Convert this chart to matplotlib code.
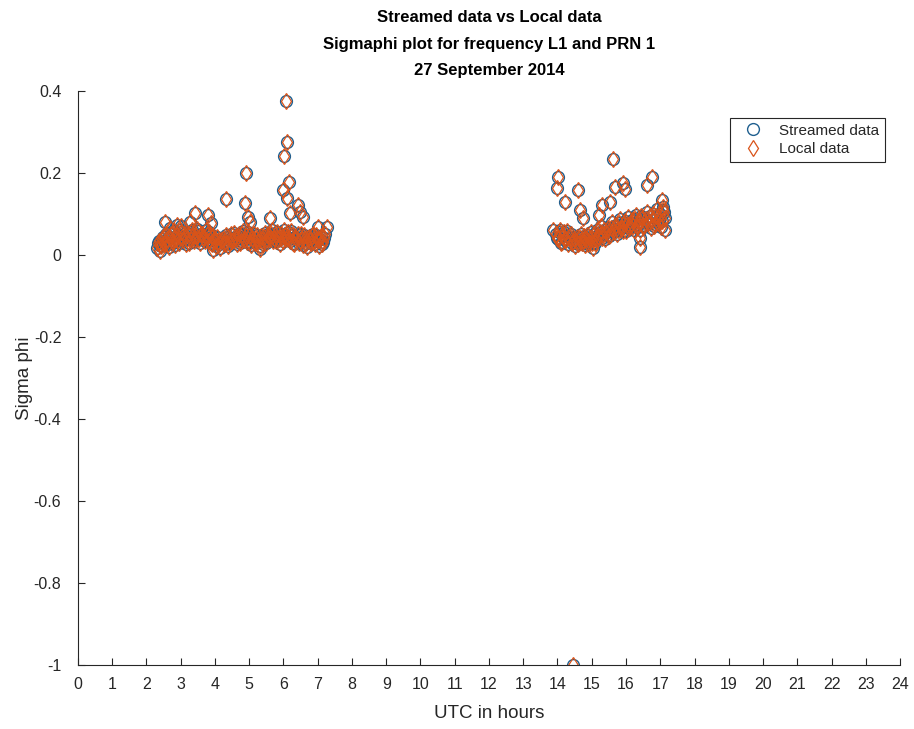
import matplotlib
matplotlib.use("Agg")
import matplotlib.pyplot as plt

plt.rcParams['font.family'] = ['Liberation Sans', 'DejaVu Sans']

# Morning pass: UTC hour and sigma phi
hours_am = [2.30, 2.36, 2.42, 2.48, 2.54, 2.60, 2.66, 2.72, 2.78, 2.84, 2.90, 2.96,
            3.02, 3.08, 3.14, 3.20, 3.26, 3.32, 3.38, 3.44, 3.50, 3.56, 3.62, 3.68,
            3.74, 3.80, 3.86, 3.92, 3.98, 4.04, 4.10, 4.16, 4.22, 4.28, 4.34, 4.40,
            4.46, 4.52, 4.58, 4.64, 4.70, 4.76, 4.82, 4.88, 4.94, 5.00, 5.06, 5.12,
            5.18, 5.24, 5.30, 5.36, 5.42, 5.48, 5.54, 5.60, 5.66, 5.72, 5.78, 5.84,
            5.90, 5.96, 6.02, 6.08, 6.14, 6.20, 6.26, 6.32, 6.38, 6.44, 6.50, 6.56,
            6.62, 6.68, 6.74, 6.80, 6.86, 6.92, 6.98, 7.04, 7.10, 7.16, 7.22,
            2.54, 2.88, 3.27, 3.42, 3.81, 3.87, 4.31, 4.88, 4.92, 4.97, 5.02, 5.61,
            5.99, 6.01, 6.06, 6.09, 6.09, 6.16, 6.19, 6.43, 6.48, 6.58, 7.02, 7.26,
            2.40, 3.95, 5.30, 3.00, 2.70]
sigma_am = [0.018, 0.035, 0.022, 0.045, 0.028, 0.040, 0.020, 0.050, 0.032, 0.025, 0.048, 0.030,
            0.055, 0.036, 0.027, 0.052, 0.040, 0.060, 0.034, 0.046, 0.058, 0.030, 0.050, 0.042,
            0.062, 0.035, 0.048, 0.028, 0.040, 0.022, 0.033, 0.018, 0.038, 0.026, 0.045, 0.030,
            0.052, 0.036, 0.044, 0.028, 0.050, 0.034, 0.058, 0.040, 0.032, 0.046, 0.025, 0.038,
            0.030, 0.048, 0.022, 0.036, 0.044, 0.030, 0.052, 0.038, 0.060, 0.042, 0.034, 0.050,
            0.028, 0.045, 0.062, 0.040, 0.055, 0.035, 0.048, 0.026, 0.042, 0.030, 0.050, 0.024,
            0.038, 0.020, 0.044, 0.030, 0.052, 0.026, 0.040, 0.022, 0.046, 0.032, 0.050,
            0.081, 0.073, 0.081, 0.102, 0.098, 0.077, 0.136, 0.126, 0.201, 0.093, 0.080, 0.089,
            0.159, 0.241, 0.376, 0.276, 0.138, 0.179, 0.102, 0.122, 0.106, 0.093, 0.069, 0.069,
            0.010, 0.012, 0.014, 0.070, 0.066]

# Morning pass, interleaved epochs
hours_am_b = [2.33, 2.39, 2.45, 2.51, 2.57, 2.63, 2.69, 2.75, 2.81, 2.87, 2.93, 2.99,
              3.05, 3.11, 3.17, 3.23, 3.29, 3.35, 3.41, 3.47, 3.53, 3.59, 3.65, 3.71,
              3.77, 3.83, 3.89, 3.95, 4.01, 4.07, 4.13, 4.19, 4.25, 4.31, 4.37, 4.43,
              4.49, 4.55, 4.61, 4.67, 4.73, 4.79, 4.85, 4.91, 4.97, 5.03, 5.09, 5.15,
              5.21, 5.27, 5.33, 5.39, 5.45, 5.51, 5.57, 5.63, 5.69, 5.75, 5.81, 5.87,
              5.93, 5.99, 6.05, 6.11, 6.17, 6.23, 6.29, 6.35, 6.41, 6.47, 6.53, 6.59,
              6.65, 6.71, 6.77, 6.83, 6.89, 6.95, 7.01, 7.07, 7.13, 7.19]
sigma_am_b = [0.030, 0.024, 0.038, 0.030, 0.050, 0.026, 0.042, 0.034, 0.058, 0.040, 0.036, 0.062,
              0.044, 0.050, 0.038, 0.030, 0.056, 0.046, 0.040, 0.064, 0.038, 0.052, 0.044, 0.034,
              0.048, 0.056, 0.030, 0.046, 0.034, 0.044, 0.026, 0.036, 0.030, 0.048, 0.022, 0.040,
              0.034, 0.054, 0.040, 0.046, 0.030, 0.052, 0.036, 0.046, 0.056, 0.032, 0.042, 0.050,
              0.040, 0.034, 0.046, 0.028, 0.054, 0.040, 0.046, 0.052, 0.034, 0.048, 0.056, 0.040,
              0.052, 0.034, 0.048, 0.044, 0.038, 0.058, 0.030, 0.044, 0.050, 0.036, 0.040, 0.048,
              0.030, 0.042, 0.036, 0.046, 0.034, 0.048, 0.036, 0.040, 0.028, 0.042]

# Afternoon pass: UTC hour and sigma phi
hours_pm = [13.96, 14.02, 14.08, 14.14, 14.20, 14.26, 14.32, 14.38, 14.44, 14.50, 14.56, 14.62,
            14.68, 14.74, 14.80, 14.86, 14.92, 14.98, 15.04, 15.10, 15.16, 15.22, 15.28, 15.34,
            15.40, 15.46, 15.52, 15.58, 15.64, 15.70, 15.76, 15.82, 15.88, 15.94, 16.00, 16.06,
            16.12, 16.18, 16.24, 16.30, 16.36, 16.42, 16.48, 16.54, 16.60, 16.66, 16.72, 16.78,
            16.84, 16.90, 16.96, 17.02, 17.08, 17.14,
            13.88, 13.98, 14.02, 14.22, 14.44, 14.61, 14.66, 14.75, 15.04, 15.29, 15.53, 15.63,
            15.68, 15.92, 15.97, 16.41, 16.41, 16.60, 16.75, 17.04, 17.09, 17.14, 15.20]
sigma_pm = [0.050, 0.038, 0.060, 0.032, 0.055, 0.040, 0.028, 0.050, 0.035, 0.022, 0.045, 0.030,
            0.052, 0.036, 0.025, 0.048, 0.032, 0.056, 0.040, 0.030, 0.060, 0.045, 0.070, 0.050,
            0.038, 0.065, 0.048, 0.080, 0.055, 0.072, 0.060, 0.088, 0.065, 0.078, 0.058, 0.092,
            0.070, 0.085, 0.062, 0.098, 0.075, 0.060, 0.090, 0.070, 0.105, 0.080, 0.065, 0.100,
            0.075, 0.112, 0.085, 0.068, 0.118, 0.090,
            0.061, 0.163, 0.191, 0.130, -1.000, 0.159, 0.110, 0.089, 0.017, 0.122, 0.130, 0.233,
            0.167, 0.175, 0.160, 0.041, 0.020, 0.171, 0.191, 0.134, 0.110, 0.061, 0.098]

# Afternoon pass, interleaved epochs
hours_pm_b = [13.99, 14.05, 14.11, 14.17, 14.23, 14.29, 14.35, 14.41, 14.47, 14.53, 14.59, 14.65,
              14.71, 14.77, 14.83, 14.89, 14.95, 15.01, 15.07, 15.13, 15.19, 15.25, 15.31, 15.37,
              15.43, 15.49, 15.55, 15.61, 15.67, 15.73, 15.79, 15.85, 15.91, 15.97, 16.03, 16.09,
              16.15, 16.21, 16.27, 16.33, 16.39, 16.45, 16.51, 16.57, 16.63, 16.69, 16.75, 16.81,
              16.87, 16.93, 16.99, 17.05, 17.11]
sigma_pm_b = [0.042, 0.055, 0.030, 0.046, 0.036, 0.058, 0.044, 0.030, 0.040, 0.034, 0.026, 0.042,
              0.030, 0.046, 0.038, 0.028, 0.042, 0.030, 0.050, 0.040, 0.046, 0.056, 0.042, 0.062,
              0.055, 0.046, 0.066, 0.060, 0.070, 0.052, 0.078, 0.066, 0.058, 0.084, 0.072, 0.066,
              0.078, 0.070, 0.088, 0.068, 0.082, 0.095, 0.072, 0.088, 0.078, 0.094, 0.085, 0.070,
              0.095, 0.078, 0.100, 0.082, 0.104]

streamed_hours = hours_am + hours_am_b + hours_pm + hours_pm_b
streamed_sigma = sigma_am + sigma_am_b + sigma_pm + sigma_pm_b
local_hours = list(streamed_hours)
local_sigma = list(streamed_sigma)

x_ticks = list(range(0, 25))
y_ticks = [-1, -0.8, -0.6, -0.4, -0.2, 0, 0.2, 0.4]
y_tick_labels = ['-1', '-0.8', '-0.6', '-0.4', '-0.2', '0', '0.2', '0.4']

ink = '#262626'

fig = plt.figure(figsize=(9.14, 7.29), dpi=100)
ax = fig.add_axes([0.0853, 0.0878, 0.8994, 0.7874])

ax.plot(streamed_hours, streamed_sigma, linestyle='none', marker='o', markersize=8.5,
        markerfacecolor='none', markeredgecolor='#1f5f8f', markeredgewidth=1.0,
        label='Streamed data')
ax.plot(local_hours, local_sigma, linestyle='none', marker='d', markersize=8.5,
        markerfacecolor='none', markeredgecolor='#D95319', markeredgewidth=0.9,
        label='Local data')

ax.set_xlim(0, 24)
ax.set_ylim(-1, 0.4)
ax.set_xticks(x_ticks)
ax.set_yticks(y_ticks)
ax.set_yticklabels(y_tick_labels)
ax.tick_params(direction='in', length=5, width=0.8, labelsize=11.5, colors=ink)
ax.tick_params(axis='x', pad=9)
ax.tick_params(axis='y', pad=12)
for side in ('top', 'right'):
    ax.spines[side].set_visible(False)
for side in ('left', 'bottom'):
    ax.spines[side].set_color(ink)
    ax.spines[side].set_linewidth(0.8)

ax.set_xlabel('UTC in hours', fontsize=13.5, color=ink, va='center')
ax.set_ylabel('Sigma phi', fontsize=13.5, color=ink, va='center')
ax.xaxis.set_label_coords(0.5, -0.085)
ax.yaxis.set_label_coords(-0.065, 0.5)

fig.text(0.535, 1 - 18 / 729, 'Streamed data vs Local data', ha='center', va='center',
         fontsize=12, fontweight='bold', color='black')
fig.text(0.535, 1 - 45 / 729, 'Sigmaphi plot for frequency L1 and PRN 1', ha='center',
         va='center', fontsize=12, fontweight='bold', color='black')
fig.text(0.535, 1 - 71 / 729, '27 September 2014', ha='center', va='center',
         fontsize=12, fontweight='bold', color='black')

leg = ax.legend(loc='upper right', bbox_to_anchor=(0.991, 0.967), fontsize=11,
                frameon=True, fancybox=False, framealpha=1, edgecolor=ink,
                borderpad=0.4, handletextpad=0.6, handlelength=2.2, labelspacing=0.3)
leg.get_frame().set_linewidth(0.8)
for t in leg.get_texts():
    t.set_color(ink)

fig.savefig('out.png', dpi=100)
